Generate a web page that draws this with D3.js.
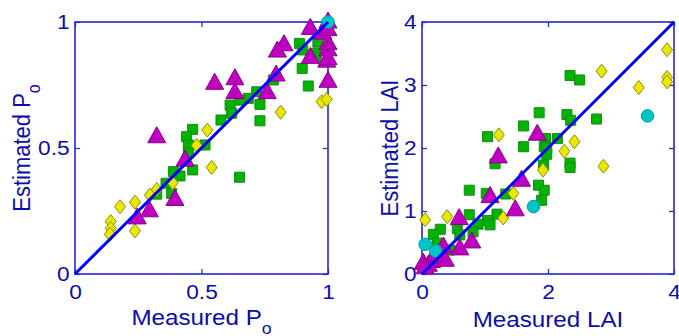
<!DOCTYPE html>
<html>
<head>
<meta charset="utf-8">
<script src="https://cdn.jsdelivr.net/npm/d3@7"></script>
<style>
  body { margin: 0; background: #fff; }
  svg { display: block; font-family: "Liberation Sans", Arial, sans-serif; }
</style>
</head>
<body>
<svg id="chart" width="679" height="336"></svg>
<script>
// ---- left panel : P_o ----
const poTicksX = [0, 0.5, 1];
const poTicksY = [0, 0.5, 1];
const poSquares = [[0.887,0.915],[0.90,0.889],[0.955,0.876],[0.96,0.92],[0.95,0.86],[0.898,0.816],[0.922,0.746],
  [0.784,0.77],[0.718,0.723],[0.685,0.697],[0.652,0.69],[0.613,0.67],[0.619,0.638],[0.731,0.673],[0.731,0.608],
  [0.577,0.611],[0.465,0.574],[0.441,0.545],[0.448,0.512],[0.514,0.512],[0.448,0.48],[0.465,0.413],[0.389,0.406],
  [0.415,0.389],[0.65,0.384],[0.36,0.36],[0.382,0.32],[0.323,0.317]];
const poDiamonds = [[0.975,0.684],[0.995,0.693],[0.813,0.642],[0.523,0.571],[0.481,0.51],[0.54,0.423],[0.386,0.362],
  [0.323,0.335],[0.296,0.313],[0.237,0.285],[0.178,0.267],[0.141,0.208],[0.141,0.181],[0.138,0.158],[0.237,0.171]];
const poTriangles = [[1.0,1.0],[0.93,0.975],[0.98,0.956],[1.0,0.97],[0.826,0.91],[0.80,0.885],[1.0,0.915],[1.0,0.89],
  [0.93,0.86],[0.995,0.845],[1.0,0.855],[0.795,0.79],[1.0,0.765],[0.552,0.757],[0.632,0.775],[0.632,0.72],[0.76,0.72],
  [0.323,0.545],[0.435,0.452],[0.395,0.296],[0.294,0.251],[0.246,0.223]];
const poCircles = [[1.0,1.0]];

// ---- right panel : LAI ----
const laiTicksX = [0, 2, 4];
const laiTicksY = [0, 1, 2, 3, 4];
const laiSquares = [[1.04,2.18],[1.61,2.35],[1.86,2.56],[2.35,3.15],[2.50,3.08],[2.30,2.53],[2.36,2.44],[2.77,2.46],
  [1.61,2.02],[1.96,2.15],[2.15,2.15],[1.94,2.02],[1.98,2.0],[1.98,1.9],[2.35,1.76],[2.35,1.69],[1.16,1.75],[1.93,1.73],
  [0.75,1.33],[1.02,1.28],[1.33,1.27],[1.85,1.41],[1.94,1.33],[1.90,1.17],[0.75,0.94],[1.19,0.95],[1.04,0.85],
  [1.08,0.78],[0.89,0.79],[0.81,0.67],[0.56,0.72],[0.29,0.71],[0.18,0.63],[0.60,0.62],[0.44,0.38],[0.24,0.49]];
const laiDiamonds = [[3.89,3.56],[2.85,3.22],[3.44,2.96],[3.89,3.12],[3.89,3.05],[1.22,2.21],[2.42,2.10],[2.26,1.95],
  [2.88,1.71],[1.92,1.65],[1.45,1.28],[1.29,0.89],[0.40,0.91],[0.05,0.86]];
const laiTriangles = [[1.83,2.22],[1.21,1.86],[1.08,1.23],[1.58,1.49],[1.48,1.02],[0.59,0.88],[0.79,0.51],[0.60,0.40],
  [0.34,0.43],[0.29,0.25],[0.15,0.2],[0.02,0.17],[0.1,0.14],[0.23,0.27],[0.37,0.22],[0.05,0.1],[0.2,0.3]];
const laiCircles = [[3.58,2.51],[1.77,1.07],[0.05,0.47],[0.22,0.365]];

const svg = d3.select('#chart');
const textColor = '#0c0cb0';
const axisColor = '#2626d6';

// marker shapes
const sq = s => `M${-s/2},${-s/2}h${s}v${s}h${-s}Z`;
const dia = (w, h) => `M0,${-h/2}L${w/2},0L0,${h/2}L${-w/2},0Z`;
const tri = (w, h) => `M0,${-h*0.62}L${w/2},${h*0.38}L${-w/2},${h*0.38}Z`;

function drawPanel(p) {
  const x = d3.scaleLinear().domain([0, p.max]).range([p.left, p.right]);
  const y = d3.scaleLinear().domain([0, p.max]).range([p.bottom, p.top]);
  const g = svg.append('g');

  // axes box
  g.append('rect')
    .attr('x', p.left).attr('y', p.top)
    .attr('width', p.right - p.left).attr('height', p.bottom - p.top)
    .attr('fill', 'none').attr('stroke', axisColor).attr('stroke-width', 1.6);

  const styleAxis = sel => {
    sel.select('.domain').remove();
    sel.selectAll('line').attr('stroke', axisColor).attr('stroke-width', 1.2);
    sel.selectAll('text').attr('fill', textColor).attr('font-size', 21)
      .attr('font-family', '"Liberation Sans", Arial, sans-serif');
  };
  g.append('g').attr('transform', `translate(0,${p.bottom})`)
    .call(d3.axisBottom(x).tickValues(p.ticksX).tickSize(-5).tickPadding(10).tickFormat(d3.format('')))
    .call(styleAxis);
  g.append('g').attr('transform', `translate(0,${p.top})`)
    .call(d3.axisTop(x).tickValues(p.ticksX).tickSize(-5).tickFormat(''))
    .call(styleAxis);
  g.append('g').attr('transform', `translate(${p.left},0)`)
    .call(d3.axisLeft(y).tickValues(p.ticksY).tickSize(-5).tickPadding(5).tickFormat(d3.format('')))
    .call(styleAxis);
  g.append('g').attr('transform', `translate(${p.right},0)`)
    .call(d3.axisRight(y).tickValues(p.ticksY).tickSize(-5).tickFormat(''))
    .call(styleAxis);
  g.selectAll('.tick text').attr('transform', 'scale(1.08,1)');

  // markers
  g.append('g').selectAll('path').data(p.squares).join('path')
    .attr('transform', d => `translate(${x(d[0])},${y(d[1])})`)
    .attr('d', sq(10)).attr('fill', '#00b400').attr('stroke', '#138c13').attr('stroke-width', 1);
  g.append('g').selectAll('path').data(p.diamonds).join('path')
    .attr('transform', d => `translate(${x(d[0])},${y(d[1])})`)
    .attr('d', dia(11, 14)).attr('fill', '#e8e800').attr('stroke', '#8f8f00').attr('stroke-width', 1);
  g.append('g').selectAll('path').data(p.triangles).join('path')
    .attr('transform', d => `translate(${x(d[0])},${y(d[1])})`)
    .attr('d', tri(18, 16)).attr('fill', '#c000c0').attr('stroke', '#8a008a').attr('stroke-width', 1);
  g.append('g').selectAll('circle').data(p.circles).join('circle')
    .attr('cx', d => x(d[0])).attr('cy', d => y(d[1])).attr('r', 6.3)
    .attr('fill', '#00c4c8').attr('stroke', '#00a0a8').attr('stroke-width', 1);

  // 1:1 line
  g.append('line')
    .attr('x1', x(0)).attr('y1', y(0)).attr('x2', x(p.max)).attr('y2', y(p.max))
    .attr('stroke', '#0000ff').attr('stroke-width', 3);

  // axis labels
  const yl = g.append('text')
    .attr('transform', `translate(${p.yLabelX},${(p.top + p.bottom) / 2}) scale(1.1,1) rotate(-90)`)
    .attr('text-anchor', 'middle').attr('fill', textColor).attr('font-size', 22);
  yl.append('tspan').text(p.yLabel);
  if (p.sub) yl.append('tspan').attr('dy', 9).attr('font-size', 16).text(p.sub);

  const xl = g.append('text')
    .attr('transform', `translate(${(p.left + p.right) / 2},${p.xLabelY}) scale(1.1,1)`)
    .attr('text-anchor', 'middle').attr('fill', textColor).attr('font-size', 22);
  xl.append('tspan').text(p.xLabel);
  if (p.sub) xl.append('tspan').attr('dy', 9).attr('font-size', 16).text(p.sub);
}

drawPanel({
  left: 75, right: 328, top: 22, bottom: 274, max: 1,
  ticksX: poTicksX, ticksY: poTicksY,
  squares: poSquares, diamonds: poDiamonds, triangles: poTriangles, circles: poCircles,
  yLabel: 'Estimated P', xLabel: 'Measured P', sub: 'o', yLabelX: 30, xLabelY: 325
});
drawPanel({
  left: 422, right: 674, top: 22, bottom: 274, max: 4,
  ticksX: laiTicksX, ticksY: laiTicksY,
  squares: laiSquares, diamonds: laiDiamonds, triangles: laiTriangles, circles: laiCircles,
  yLabel: 'Estimated LAI', xLabel: 'Measured LAI', sub: null, yLabelX: 398, xLabelY: 327
});
</script>
</body>
</html>
